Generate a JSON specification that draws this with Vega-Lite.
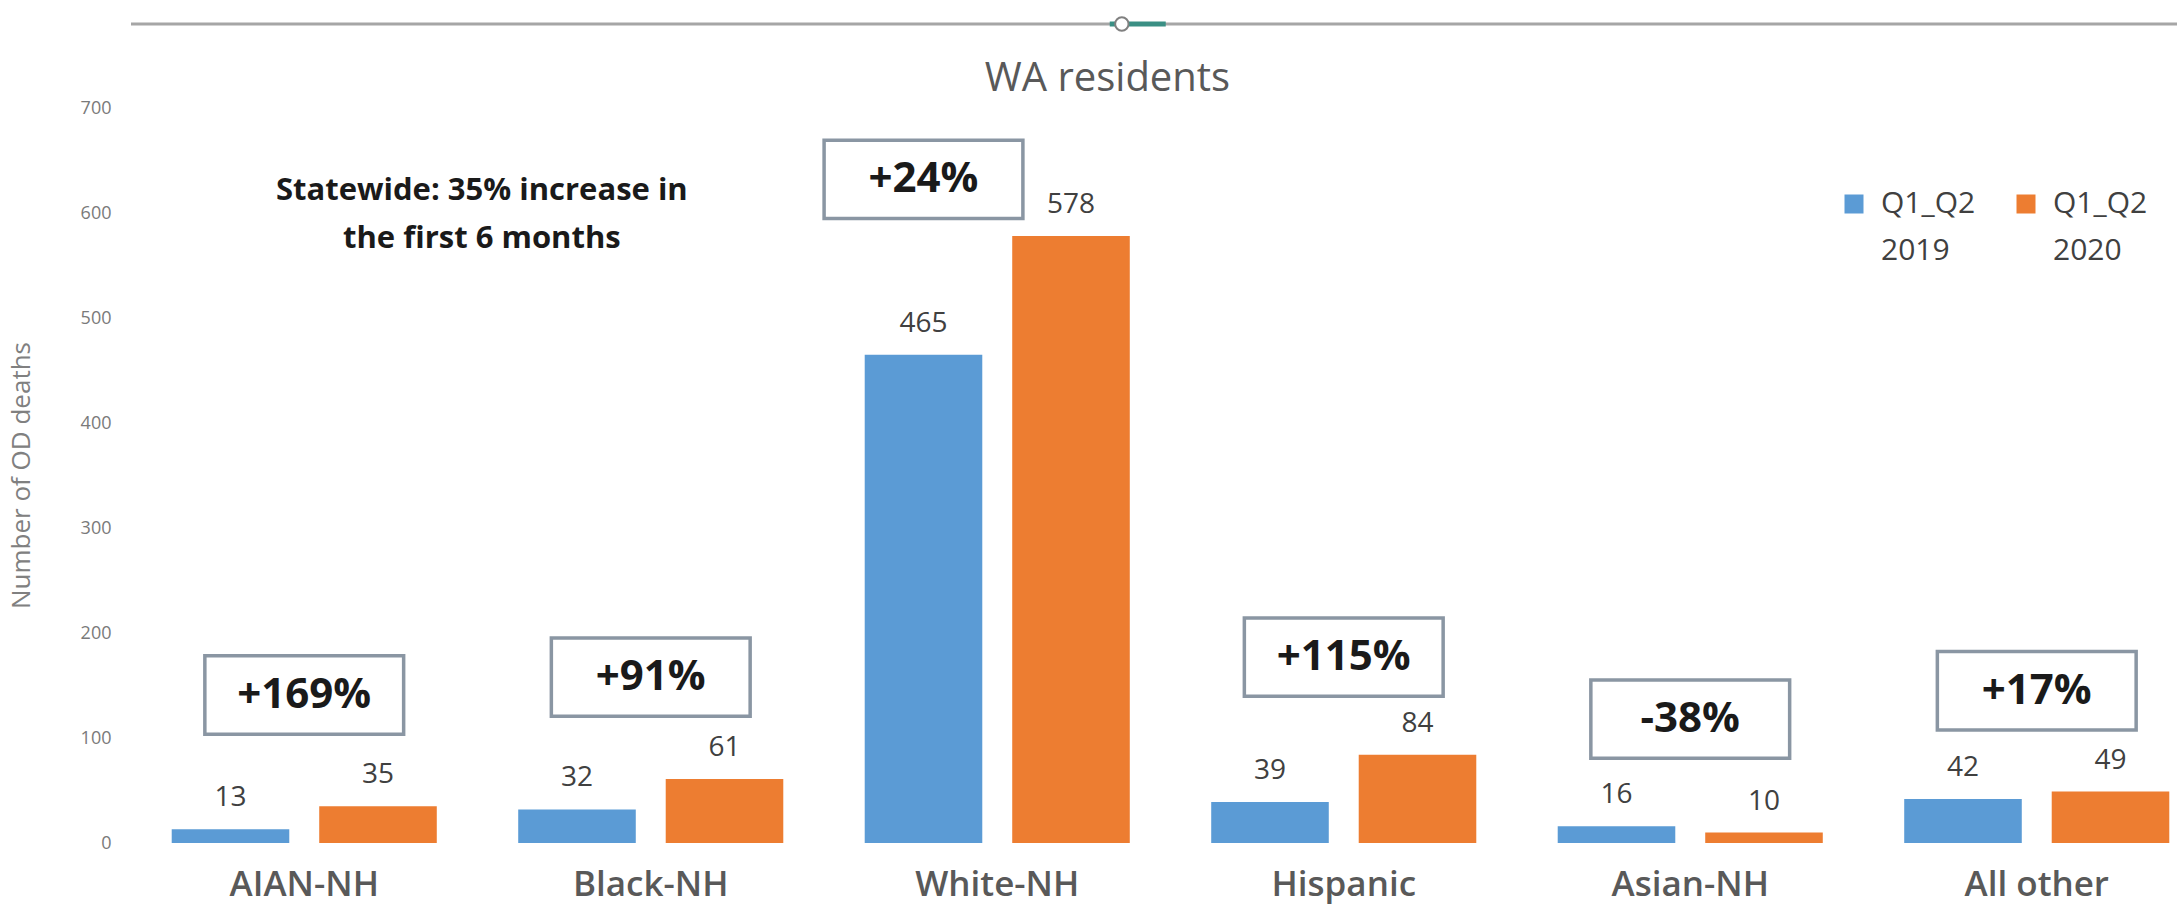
{
  "$schema": "https://vega.github.io/schema/vega-lite/v6.json",
  "width": 2079,
  "height": 819,
  "autosize": {"type": "none"},
  "padding": {"left": 131, "top": 24, "right": 0, "bottom": 64},
  "background": "white",
  "config": {"view": {"stroke": null}, "font": "Open Sans", "style": {"guide-label": {"lineHeight": 47}}},
  "title": {"text": "WA residents", "fontSize": 40, "font": "Open Sans", "fontWeight": "normal", "color": "#595959", "anchor": "middle", "frame": "group", "baseline": "alphabetic", "offset": -118, "dx": -63},
  "datasets": {
    "deaths": [
      {"group": "AIAN-NH", "series": "Q1_Q2 2019", "value": 13},
      {"group": "AIAN-NH", "series": "Q1_Q2 2020", "value": 35},
      {"group": "Black-NH", "series": "Q1_Q2 2019", "value": 32},
      {"group": "Black-NH", "series": "Q1_Q2 2020", "value": 61},
      {"group": "White-NH", "series": "Q1_Q2 2019", "value": 465},
      {"group": "White-NH", "series": "Q1_Q2 2020", "value": 578},
      {"group": "Hispanic", "series": "Q1_Q2 2019", "value": 39},
      {"group": "Hispanic", "series": "Q1_Q2 2020", "value": 84},
      {"group": "Asian-NH", "series": "Q1_Q2 2019", "value": 16},
      {"group": "Asian-NH", "series": "Q1_Q2 2020", "value": 10},
      {"group": "All other", "series": "Q1_Q2 2019", "value": 42},
      {"group": "All other", "series": "Q1_Q2 2020", "value": 49}
    ],
    "notes": [
      {"group": "AIAN-NH", "note": "+169%", "note_y": 141},
      {"group": "Black-NH", "note": "+91%", "note_y": 158},
      {"group": "White-NH", "note": "+24%", "note_y": 632},
      {"group": "Hispanic", "note": "+115%", "note_y": 177},
      {"group": "Asian-NH", "note": "-38%", "note_y": 118},
      {"group": "All other", "note": "+17%", "note_y": 145}
    ]
  },
  "layer": [
    {
      "data": {"values": [{}]},
      "mark": {"type": "rule", "color": "#a6a6a6", "strokeWidth": 3},
      "encoding": {"y": {"datum": 780, "type": "quantitative"}}
    },
    {
      "data": {"name": "deaths"},
      "mark": {"type": "bar"},
      "encoding": {
        "x": {
          "field": "group", "type": "nominal",
          "scale": {"domain": ["AIAN-NH", "Black-NH", "White-NH", "Hispanic", "Asian-NH", "All other"], "paddingInner": 0.235, "paddingOuter": 0.1175},
          "axis": {"title": null, "domain": false, "ticks": false, "labelAngle": 0, "labelFontSize": 35, "labelFontWeight": 600, "labelColor": "#595959", "labelPadding": 24}
        },
        "xOffset": {"field": "series", "type": "nominal", "scale": {"paddingInner": 0.203, "paddingOuter": 0}},
        "y": {
          "field": "value", "type": "quantitative",
          "scale": {"domain": [0, 780], "nice": false, "zero": true},
          "axis": {"values": [0, 100, 200, 300, 400, 500, 600, 700], "title": "Number of OD deaths", "titleFontSize": 26, "titleFontWeight": "normal", "titleColor": "#808080", "titleAngle": -90, "titleBaseline": "middle", "titleX": -110, "titleY": 451, "labelFontSize": 18, "labelColor": "#7a7a7a", "labelPadding": 20, "domain": false, "ticks": false, "gridColor": "#d9d9d9", "gridWidth": 2}
        },
        "color": {
          "field": "series", "type": "nominal",
          "scale": {"domain": ["Q1_Q2 2019", "Q1_Q2 2020"], "range": ["#5B9BD5", "#ED7D31"]},
          "legend": {"orient": "none", "legendX": 1708, "legendY": 165, "direction": "horizontal", "title": null, "symbolType": "square", "symbolSize": 361, "symbolStrokeWidth": 0, "symbolOpacity": 1, "labelFontSize": 30, "labelColor": "#404040", "labelExpr": "split(datum.label, ' ')", "labelOffset": 12, "columnPadding": 35, "labelBaseline": "middle"}
        }
      }
    },
    {
      "data": {"name": "deaths"},
      "mark": {"type": "text", "fontSize": 28, "color": "#404040", "baseline": "alphabetic", "dy": -23},
      "encoding": {
        "x": {"field": "group", "type": "nominal"},
        "xOffset": {"field": "series", "type": "nominal"},
        "y": {"field": "value", "type": "quantitative"},
        "text": {"field": "value", "type": "quantitative"}
      }
    },
    {
      "data": {"name": "notes"},
      "transform": [{"filter": "datum.group !== 'White-NH'"}],
      "layer": [
        {
          "mark": {"type": "point", "shape": "M-1.42,-0.56L1.42,-0.56L1.42,0.56L-1.42,0.56Z", "size": 19600, "filled": true, "fill": "white", "stroke": "#8a96a3", "strokeWidth": 3.5, "opacity": 1},
          "encoding": {
            "x": {"field": "group", "type": "nominal"},
            "y": {"field": "note_y", "type": "quantitative"}
          }
        },
        {
          "mark": {"type": "text", "fontSize": 42, "fontWeight": "bold", "color": "#1a1a1a", "baseline": "middle"},
          "encoding": {
            "x": {"field": "group", "type": "nominal"},
            "y": {"field": "note_y", "type": "quantitative"},
            "text": {"field": "note"}
          }
        }
      ]
    },
    {
      "data": {"name": "notes"},
      "transform": [{"filter": "datum.group === 'White-NH'"}],
      "layer": [
        {
          "mark": {"type": "point", "shape": "M-1.42,-0.56L1.42,-0.56L1.42,0.56L-1.42,0.56Z", "size": 19600, "filled": true, "fill": "white", "stroke": "#8a96a3", "strokeWidth": 3.5, "opacity": 1},
          "encoding": {
            "x": {"field": "group", "type": "nominal"},
            "xOffset": {"datum": "Q1_Q2 2019"},
            "y": {"field": "note_y", "type": "quantitative"}
          }
        },
        {
          "mark": {"type": "text", "fontSize": 42, "fontWeight": "bold", "color": "#1a1a1a", "baseline": "middle"},
          "encoding": {
            "x": {"field": "group", "type": "nominal"},
            "xOffset": {"datum": "Q1_Q2 2019"},
            "y": {"field": "note_y", "type": "quantitative"},
            "text": {"field": "note"}
          }
        }
      ]
    },
    {
      "data": {"values": [{}]},
      "mark": {"type": "text", "text": ["Statewide: 35% increase in", "the first 6 months"], "fontSize": 31, "fontWeight": "bold", "color": "#1a1a1a", "align": "center", "baseline": "alphabetic", "lineHeight": 48},
      "encoding": {
        "x": {"datum": "AIAN-NH", "type": "nominal", "bandPosition": 1.17},
        "y": {"datum": 612, "type": "quantitative"}
      }
    },
    {
      "data": {"values": [{}]},
      "mark": {"type": "point", "shape": "M-1,0L1,0", "size": 3136, "filled": false, "stroke": "#3a8f84", "strokeWidth": 5, "opacity": 1},
      "encoding": {
        "x": {"datum": "White-NH", "type": "nominal", "bandPosition": 1.03},
        "y": {"datum": 780, "type": "quantitative"}
      }
    },
    {
      "data": {"values": [{}]},
      "mark": {"type": "point", "shape": "circle", "size": 180, "filled": true, "fill": "white", "stroke": "#808080", "strokeWidth": 2, "opacity": 1},
      "encoding": {
        "x": {"datum": "White-NH", "type": "nominal", "bandPosition": 0.97},
        "y": {"datum": 780, "type": "quantitative"}
      }
    }
  ]
}
